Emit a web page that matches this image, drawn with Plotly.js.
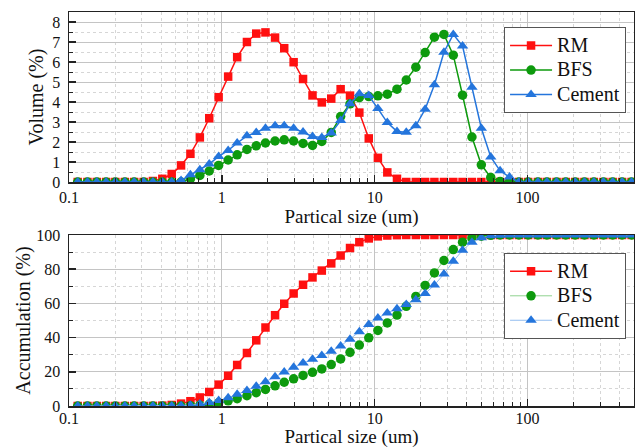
<!DOCTYPE html>
<html>
<head>
<meta charset="utf-8">
<script src="https://cdn.plot.ly/plotly-3.0.1.min.js"></script>
<style>html,body{margin:0;padding:0;background:#fff;}#chart{width:635px;height:448px;}</style>
</head>
<body>
<div id="chart"></div>
<script>
// Particle size classes (um)
const sizes = [0.114, 0.132, 0.152, 0.175, 0.201, 0.232, 0.267, 0.308, 0.354, 0.408,
  0.470, 0.541, 0.623, 0.718, 0.827, 0.953, 1.10, 1.26, 1.46, 1.68,
  1.93, 2.23, 2.56, 2.95, 3.40, 3.92, 4.51, 5.20, 5.99, 6.90,
  7.94, 9.15, 10.5, 12.1, 14.0, 16.1, 18.6, 21.4, 24.6, 28.4,
  32.7, 37.6, 43.3, 49.9, 57.5, 66.2, 76.3, 87.9, 101, 117,
  134, 155, 178, 205, 236, 272, 314, 361, 416, 480];

const seriesNames = ['RM', 'BFS', 'Cement'];

// Volume (%)
const rmVolume = [0, 0, 0, 0, 0, 0, 0, 0, 0.05, 0.16,
  0.40, 0.83, 1.41, 2.23, 3.19, 4.24, 5.27, 6.24, 7.00, 7.42,
  7.48, 7.22, 6.69, 5.99, 5.15, 4.33, 3.98, 4.17, 4.64, 4.32,
  3.47, 2.18, 1.21, 0.48, 0.16, 0, 0, 0, 0, 0,
  0, 0, 0, 0, 0, 0, 0, 0, 0, 0,
  0, 0, 0, 0, 0, 0, 0, 0, 0, 0];
const bfsVolume = [0, 0, 0, 0, 0, 0, 0, 0, 0, 0,
  0, 0, 0.16, 0.33, 0.55, 0.83, 1.10, 1.36, 1.63, 1.81,
  1.95, 2.05, 2.11, 2.05, 1.93, 1.83, 2.03, 2.48, 3.27, 3.91,
  4.22, 4.27, 4.31, 4.39, 4.64, 5.10, 5.74, 6.47, 7.24, 7.38,
  6.34, 4.34, 2.25, 0.86, 0.23, 0.03, 0, 0, 0, 0,
  0, 0, 0, 0, 0, 0, 0, 0, 0, 0];
const cementVolume = [0, 0, 0, 0, 0, 0, 0, 0, 0, 0,
  0, 0.08, 0.36, 0.61, 0.90, 1.28, 1.58, 1.95, 2.31, 2.48,
  2.69, 2.81, 2.81, 2.69, 2.50, 2.28, 2.23, 2.45, 3.07, 3.91,
  4.41, 4.32, 3.67, 2.97, 2.53, 2.49, 2.81, 3.64, 4.86, 6.49,
  7.38, 6.80, 4.74, 2.69, 1.25, 0.56, 0.25, 0, 0, 0,
  0, 0, 0, 0, 0, 0, 0, 0, 0, 0];

// Accumulation (%)
const rmAccum = [0, 0, 0, 0, 0, 0, 0, 0, 0.05, 0.2,
  0.6, 1.4, 2.8, 5.0, 8.2, 12.5, 17.7, 24.0, 31.0, 38.4,
  45.9, 53.1, 59.8, 65.8, 70.9, 75.2, 79.2, 83.4, 88.0, 92.4,
  95.8, 98.0, 99.2, 99.7, 99.9, 100, 100, 100, 100, 100,
  100, 100, 100, 100, 100, 100, 100, 100, 100, 100,
  100, 100, 100, 100, 100, 100, 100, 100, 100, 100];
const bfsAccum = [0, 0, 0, 0, 0, 0, 0, 0, 0, 0,
  0, 0, 0.2, 0.5, 1.0, 1.9, 3.0, 4.3, 6.0, 7.8,
  9.7, 11.8, 13.9, 15.9, 17.9, 19.7, 21.7, 24.2, 27.5, 31.4,
  35.6, 39.9, 44.2, 48.6, 53.2, 58.3, 64.1, 70.5, 77.8, 85.1,
  91.5, 95.8, 98.2, 99.3, 99.8, 100, 100, 100, 100, 100,
  100, 100, 100, 100, 100, 100, 100, 100, 100, 100];
const cementAccum = [0, 0, 0, 0, 0, 0, 0, 0, 0, 0,
  0, 0.1, 0.4, 1.1, 2.0, 3.2, 4.8, 6.8, 9.1, 11.6,
  14.2, 17.1, 19.9, 22.6, 25.1, 27.3, 29.6, 32.0, 35.1, 39.0,
  43.4, 47.7, 51.4, 54.4, 56.9, 59.4, 62.2, 65.8, 70.7, 77.2,
  84.6, 91.1, 95.8, 98.4, 99.5, 99.9, 100, 100, 100, 100,
  100, 100, 100, 100, 100, 100, 100, 100, 100, 100];

const RED = '#ff1010', GREEN = '#0d9a0d', BLUE = '#2475dc';
const GREEN_LIGHT = '#8fd28f', BLUE_LIGHT = '#93bdf0';
const FONT = 'Liberation Serif, Times New Roman, serif';

function label(n) { return '<span style="font-size:20px">' + n + '</span>'; }

function tr(name, y, color, lineColor, lineW, symbol, size, xa, ya, lg) {
  return {
    x: sizes, y: y, name: label(name), type: 'scatter', mode: 'lines+markers',
    xaxis: xa, yaxis: ya, legend: lg,
    line: {color: lineColor, width: lineW},
    marker: {color: color, symbol: symbol, size: size, line: {width: 0}}
  };
}

const data = [
  tr(seriesNames[0], rmVolume, RED, RED, 1.5, 'square', 8.5, 'x', 'y', 'legend'),
  tr(seriesNames[1], bfsVolume, GREEN, GREEN, 1.5, 'circle', 9.5, 'x', 'y', 'legend'),
  tr(seriesNames[2], cementVolume, BLUE, BLUE, 1.5, 'triangle-up', 10, 'x', 'y', 'legend'),
  tr(seriesNames[0], rmAccum, RED, RED, 1.5, 'square', 8.5, 'x2', 'y2', 'legend2'),
  tr(seriesNames[1], bfsAccum, GREEN, GREEN_LIGHT, 1, 'circle', 9.5, 'x2', 'y2', 'legend2'),
  tr(seriesNames[2], cementAccum, BLUE, BLUE_LIGHT, 1, 'triangle-up', 10, 'x2', 'y2', 'legend2')
];

const AX = '#222';
function xAxis(anchor, lblOff, titleOff) {
  return {
    type: 'log', range: [-1, 2.697], dtick: 1, anchor: anchor,
    showline: true, mirror: true, linecolor: AX, linewidth: 1.5,
    ticks: 'inside', ticklen: 7, tickwidth: 1.5, tickcolor: AX,
    showgrid: true, gridcolor: '#c4c4c4', gridwidth: 1, zeroline: false,
    minor: {ticks: 'inside', ticklen: 4, tickwidth: 1, tickcolor: AX,
            showgrid: true, gridcolor: '#d6d6d6', griddash: 'dot', gridwidth: 1},
    tickfont: {family: FONT, size: 16, color: '#111'}, ticklabelstandoff: lblOff,
    title: {text: 'Partical size (um)', font: {family: FONT, size: 19, color: '#111'}, standoff: titleOff}
  };
}
function yAxis(anchor, domain, range, dtick, mdtick, title, standoff) {
  return {
    domain: domain, range: range, dtick: dtick, tick0: 0, anchor: anchor,
    showline: true, mirror: true, linecolor: AX, linewidth: 1.5,
    ticks: 'inside', ticklen: 7, tickwidth: 1.5, tickcolor: AX,
    showgrid: true, gridcolor: '#c4c4c4', gridwidth: 1, zeroline: false,
    minor: {dtick: mdtick, ticks: 'inside', ticklen: 4, tickwidth: 1, tickcolor: AX,
            showgrid: true, gridcolor: '#d6d6d6', griddash: 'dot', gridwidth: 1},
    tickfont: {family: FONT, size: 16, color: '#111'}, ticklabelstandoff: 4,
    title: {text: title, font: {family: FONT, size: 20, color: '#111'}, standoff: standoff}
  };
}

const legendBase = {
  xanchor: 'left', yanchor: 'top', x: 0.770,
  bgcolor: '#ffffff', bordercolor: '#555', borderwidth: 1,
  font: {family: FONT, size: 16.5, color: '#111'}, itemwidth: 42, tracegroupgap: 0
};

const layout = {
  width: 635, height: 448,
  margin: {l: 69, r: 1, t: 12, b: 42},
  paper_bgcolor: '#ffffff', plot_bgcolor: '#ffffff',
  font: {family: FONT, size: 16, color: '#111'},
  showlegend: true,
  xaxis: xAxis('y', 0, 2),
  xaxis2: xAxis('y2', -3, 6),
  yaxis: yAxis('x', [0.5685, 1], [0, 8.5], 1, 0.5, 'Volume (%)', 3),
  yaxis2: yAxis('x2', [0, 0.434], [0, 100], 20, 10, 'Accumulation (%)', 0),
  legend: Object.assign({}, legendBase, {y: 0.961}),
  legend2: Object.assign({}, legendBase, {y: 0.388})
};

Plotly.newPlot('chart', data, layout, {displayModeBar: false, staticPlot: true});
</script>
</body>
</html>
